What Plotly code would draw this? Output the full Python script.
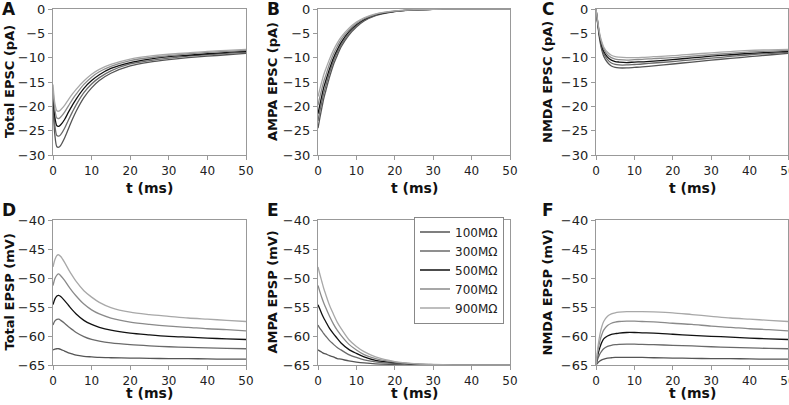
import plotly.graph_objects as go

# ---------------- data ----------------
t_ms = [0, 0.5, 1, 1.5, 2, 3, 4, 5, 6, 8, 10, 12, 15, 20, 25, 30, 35, 40, 45, 50]
resistances = ["100MΩ", "300MΩ", "500MΩ", "700MΩ", "900MΩ"]

# A: Total EPSC (pA)
total_epsc = [
    [-19.5, -26.0, -28.3, -28.4, -28.0, -26.5, -24.6, -22.7, -21.0, -18.2, -16.2, -14.7, -13.2, -11.7, -10.9, -10.4, -10.0, -9.7, -9.4, -9.1],
    [-18.5, -24.0, -26.0, -26.1, -25.8, -24.5, -22.8, -21.2, -19.7, -17.2, -15.4, -14.1, -12.7, -11.3, -10.6, -10.1, -9.7, -9.4, -9.1, -8.9],
    [-17.5, -22.3, -24.0, -24.1, -23.8, -22.7, -21.2, -19.8, -18.5, -16.3, -14.7, -13.5, -12.2, -11.0, -10.3, -9.8, -9.5, -9.2, -8.9, -8.7],
    [-16.5, -20.8, -22.4, -22.5, -22.2, -21.2, -19.9, -18.6, -17.5, -15.5, -14.0, -12.9, -11.8, -10.6, -10.0, -9.6, -9.2, -8.9, -8.7, -8.5],
    [-15.5, -19.5, -20.9, -21.0, -20.7, -19.8, -18.6, -17.5, -16.5, -14.8, -13.4, -12.4, -11.4, -10.3, -9.7, -9.3, -9.0, -8.7, -8.5, -8.3],
]
# B: AMPA EPSC (pA)
ampa_epsc = [
    [-24.5, -22.3, -20.3, -18.4, -16.9, -14.0, -11.5, -9.6, -7.8, -5.4, -3.7, -2.45, -1.35, -0.54, -0.2, -0.07, -0.02, 0, 0, 0],
    [-23.0, -20.9, -19.1, -17.3, -15.9, -13.1, -10.8, -9.0, -7.4, -5.1, -3.45, -2.3, -1.27, -0.5, -0.18, -0.07, -0.02, 0, 0, 0],
    [-21.5, -19.6, -17.8, -16.1, -14.8, -12.3, -10.1, -8.4, -6.9, -4.7, -3.2, -2.15, -1.18, -0.47, -0.17, -0.06, -0.02, 0, 0, 0],
    [-19.8, -18.0, -16.4, -14.9, -13.7, -11.3, -9.3, -7.7, -6.3, -4.4, -3.0, -2.0, -1.09, -0.44, -0.16, -0.06, -0.02, 0, 0, 0],
    [-18.0, -16.4, -14.9, -13.5, -12.4, -10.3, -8.5, -7.0, -5.8, -4.0, -2.7, -1.8, -0.99, -0.4, -0.14, -0.05, -0.02, 0, 0, 0],
]
# C: NMDA EPSC (pA)
nmda_epsc = [
    [0, -3.5, -6.5, -8.4, -9.7, -11.0, -11.7, -12.0, -12.1, -12.1, -12.0, -11.9, -11.7, -11.3, -10.9, -10.5, -10.15, -9.8, -9.45, -9.1],
    [0, -3.3, -6.1, -7.9, -9.2, -10.4, -11.1, -11.4, -11.5, -11.5, -11.4, -11.3, -11.1, -10.8, -10.45, -10.1, -9.75, -9.4, -9.15, -8.9],
    [0, -3.1, -5.8, -7.5, -8.7, -9.9, -10.5, -10.8, -10.9, -11.0, -10.9, -10.85, -10.7, -10.4, -10.05, -9.7, -9.4, -9.1, -8.9, -8.7],
    [0, -3.0, -5.5, -7.1, -8.2, -9.4, -10.0, -10.3, -10.4, -10.5, -10.4, -10.35, -10.2, -10.0, -9.7, -9.4, -9.1, -8.8, -8.65, -8.5],
    [0, -2.8, -5.2, -6.7, -7.8, -8.9, -9.5, -9.8, -9.9, -10.0, -10.0, -9.95, -9.8, -9.6, -9.3, -9.0, -8.75, -8.5, -8.4, -8.3],
]
# D: Total EPSP (mV)
total_epsp = [
    [-62.4, -62.25, -62.2, -62.2, -62.3, -62.6, -62.9, -63.1, -63.3, -63.5, -63.6, -63.7, -63.75, -63.8, -63.85, -63.9, -63.9, -63.95, -64.0, -64.0],
    [-58.1, -57.4, -57.15, -57.1, -57.3, -57.8, -58.4, -58.9, -59.4, -60.1, -60.6, -60.9, -61.2, -61.5, -61.7, -61.85, -61.95, -62.05, -62.15, -62.2],
    [-54.6, -53.6, -53.1, -53.0, -53.2, -53.9, -54.7, -55.5, -56.2, -57.3, -58.0, -58.5, -59.0, -59.5, -59.8, -60.05, -60.2, -60.35, -60.5, -60.6],
    [-51.3, -50.1, -49.5, -49.3, -49.6, -50.4, -51.4, -52.3, -53.1, -54.5, -55.5, -56.2, -56.9, -57.6, -58.0, -58.3, -58.5, -58.75, -58.9, -59.1],
    [-48.1, -46.8, -46.1, -46.0, -46.3, -47.3, -48.5, -49.6, -50.6, -52.2, -53.3, -54.2, -55.1, -55.9, -56.3, -56.6, -56.9, -57.1, -57.3, -57.5],
]
# E: AMPA EPSP (mV)
ampa_epsp = [
    [-62.4, -62.6, -62.8, -63.0, -63.1, -63.4, -63.6, -63.9, -64.0, -64.3, -64.5, -64.65, -64.8, -64.9, -65.0, -65.0, -65.0, -65.0, -65.0, -65.0],
    [-58.1, -58.7, -59.1, -59.6, -60.0, -60.8, -61.4, -62.0, -62.4, -63.2, -63.7, -64.1, -64.45, -64.75, -64.9, -64.96, -65.0, -65.0, -65.0, -65.0],
    [-54.6, -55.4, -56.2, -56.9, -57.5, -58.7, -59.6, -60.4, -61.2, -62.3, -63.0, -63.6, -64.2, -64.6, -64.85, -64.94, -65.0, -65.0, -65.0, -65.0],
    [-51.3, -52.4, -53.4, -54.3, -55.1, -56.6, -57.9, -59.0, -59.9, -61.4, -62.4, -63.2, -63.9, -64.5, -64.8, -64.92, -65.0, -65.0, -65.0, -65.0],
    [-48.1, -49.4, -50.6, -51.8, -52.8, -54.7, -56.2, -57.6, -58.7, -60.6, -61.8, -62.7, -63.6, -64.4, -64.75, -64.9, -64.97, -65.0, -65.0, -65.0],
]
# F: NMDA EPSP (mV)
nmda_epsp = [
    [-65.0, -64.6, -64.3, -64.1, -64.0, -63.8, -63.75, -63.7, -63.7, -63.7, -63.7, -63.7, -63.75, -63.8, -63.85, -63.9, -63.9, -63.95, -64.0, -64.0],
    [-65.0, -63.9, -63.1, -62.6, -62.2, -61.8, -61.6, -61.5, -61.45, -61.4, -61.4, -61.45, -61.5, -61.6, -61.7, -61.85, -61.95, -62.05, -62.15, -62.2],
    [-65.0, -63.2, -62.0, -61.1, -60.5, -60.0, -59.7, -59.6, -59.5, -59.4, -59.4, -59.45, -59.5, -59.7, -59.9, -60.05, -60.2, -60.35, -60.5, -60.6],
    [-65.0, -62.5, -60.9, -59.8, -59.0, -58.2, -57.8, -57.6, -57.5, -57.45, -57.45, -57.5, -57.55, -57.8, -58.0, -58.3, -58.5, -58.75, -58.9, -59.1],
    [-65.0, -61.9, -59.8, -58.4, -57.5, -56.6, -56.2, -56.0, -55.9, -55.8, -55.8, -55.8, -55.85, -56.0, -56.3, -56.6, -56.9, -57.1, -57.3, -57.5],
]

panel_letters = ["A", "B", "C", "D", "E", "F"]
y_titles = ["Total EPSC (pA)", "AMPA EPSC (pA)", "NMDA EPSC (pA)",
            "Total EPSP (mV)", "AMPA EPSP (mV)", "NMDA EPSP (mV)"]
x_title = "t (ms)"

# ---------------- styling ----------------
W, H = 789, 405
FONT = "DejaVu Sans"
colors = ["#555555", "#6a6a6a", "#111111", "#8a8a8a", "#a8a8a8"]
spine = "#999999"


def px_x(x):
    return x / W


def px_y(y):
    return 1 - y / H


col_px = [(53, 246), (318, 510), (596, 788)]
row_px = [(9, 155), (220, 365)]
ytitle_x = [9, 272, 547]
letter_x = [9, 273, 548]
letter_y = [9, 210]
xtitle_y = [188, 393]
yranges = [[-30, 0], [-65, -40]]

panels = [total_epsc, ampa_epsc, nmda_epsc, total_epsp, ampa_epsp, nmda_epsp]

fig = go.Figure()
annotations = []
for i, series in enumerate(panels):
    r, c = divmod(i, 3)
    k = i + 1
    xa = "x" if k == 1 else f"x{k}"
    ya = "y" if k == 1 else f"y{k}"
    for j, vals in enumerate(series):
        fig.add_trace(go.Scatter(
            x=t_ms, y=vals, mode="lines", name=resistances[j],
            line=dict(color=colors[j], width=1.3, shape="spline", smoothing=0.8),
            xaxis=xa, yaxis=ya, showlegend=(i == 4), legendgroup=resistances[j],
            hoverinfo="skip",
        ))
    x0, x1 = col_px[c]
    y0, y1 = row_px[r]
    axis_common = dict(showline=True, mirror=True, linecolor=spine, linewidth=1.2,
                       ticks="outside", ticklen=4, tickcolor=spine, tickwidth=1,
                       showgrid=False, zeroline=False, automargin=False,
                       ticklabeloverflow="allow")
    fig.update_layout(**{
        ("xaxis" if k == 1 else f"xaxis{k}"): dict(
            domain=[px_x(x0), px_x(x1)], range=[0, 50], dtick=10, anchor=ya,
            tickfont=dict(family=FONT, size=12, color="#222"), **axis_common),
        ("yaxis" if k == 1 else f"yaxis{k}"): dict(
            domain=[px_y(y1), px_y(y0)], range=yranges[r], dtick=5, anchor=xa,
            tickfont=dict(family=FONT, size=13, color="#222"), **axis_common),
    })
    # y-axis title
    annotations.append(dict(text=f"<b>{y_titles[i]}</b>", xref="paper", yref="paper",
                            x=px_x(ytitle_x[c]), y=px_y((y0 + y1) / 2), textangle=-90,
                            showarrow=False, xanchor="center", yanchor="middle",
                            font=dict(family=FONT, size=13, color="#111")))
    # x-axis title
    annotations.append(dict(text=f"<b>{x_title}</b>", xref="paper", yref="paper",
                            x=px_x((x0 + x1) / 2), y=px_y(xtitle_y[r]),
                            showarrow=False, xanchor="center", yanchor="middle",
                            font=dict(family=FONT, size=14, color="#111")))
    # panel letter
    annotations.append(dict(text=f"<b>{panel_letters[i]}</b>", xref="paper", yref="paper",
                            x=px_x(letter_x[c]), y=px_y(letter_y[r]),
                            showarrow=False, xanchor="center", yanchor="middle",
                            font=dict(family=FONT, size=17, color="#111")))

fig.update_layout(
    width=W, height=H, margin=dict(l=0, r=0, t=0, b=0, autoexpand=False),
    paper_bgcolor="white", plot_bgcolor="white",
    annotations=annotations,
    legend=dict(x=px_x(459), y=px_y(270), xanchor="center", yanchor="middle",
                bgcolor="white", bordercolor="#888", borderwidth=1,
                font=dict(family=FONT, size=12, color="#222"),
                itemwidth=30, tracegroupgap=0),
    font=dict(family=FONT),
)

# place the figure at the window's top-left corner (no default page margin)
fig.write_html("out.html", config={"displayModeBar": False},
               post_script="document.body.style.margin='0';document.body.style.padding='0';")
